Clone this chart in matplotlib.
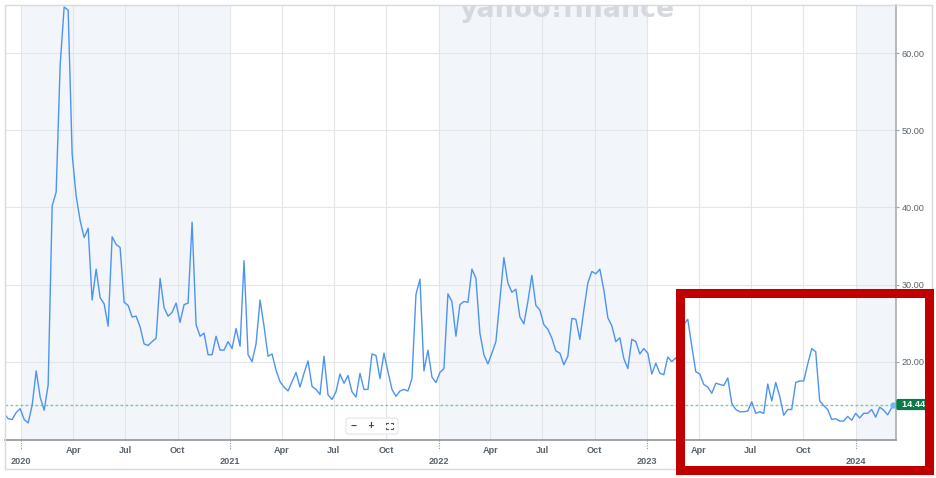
import pandas as pd
import matplotlib.pyplot as plt
import matplotlib.transforms as mtransforms
from matplotlib.patches import Rectangle, FancyBboxPatch
from matplotlib.lines import Line2D

# weekly closes, first week starts 2019-12-02
first_week = '2019-12-02'
last_date = '2024-03-07'

vix_2019 = [13.27, 12.6, 12.5, 13.4, 13.9]
vix_2020 = [12.5, 12.05, 14.35, 18.8, 15.4, 13.7, 17.0, 40.2, 42.0, 58.5, 66.0, 65.6,
            46.9, 41.5, 38.3, 36.1, 37.3, 28.0, 32.0, 28.3, 27.5, 24.6, 36.2, 35.2,
            34.8, 27.7, 27.3, 25.8, 25.9, 24.5, 22.3, 22.1, 22.6, 23.05, 30.8, 27.0,
            25.9, 26.4, 27.6, 25.1, 27.4, 27.6, 38.1, 24.8, 23.3, 23.7, 20.9, 20.9,
            23.3, 21.5, 21.5, 22.6]
vix_2021 = [21.7, 24.3, 22.0, 33.1, 20.9, 20.0, 22.3, 28.0, 24.6, 20.7, 21.0, 18.9,
            17.4, 16.7, 16.2, 17.4, 18.6, 16.7, 18.5, 20.1, 16.8, 16.4, 15.75, 20.7,
            15.7, 15.1, 16.1, 18.4, 17.2, 18.2, 16.1, 15.4, 18.5, 16.4, 16.4, 21.0,
            20.8, 17.8, 21.1, 18.7, 16.4, 15.5, 16.2, 16.4, 16.2, 17.8, 28.7, 30.7,
            18.8, 21.5, 18.0, 17.3]
vix_2022 = [18.6, 19.1, 28.8, 27.8, 23.3, 27.4, 27.8, 27.7, 32.0, 30.8, 23.7, 20.9,
            19.7, 21.1, 22.6, 28.0, 33.5, 30.2, 29.0, 29.4, 25.8, 24.9, 27.8, 31.2,
            27.3, 26.7, 24.8, 24.2, 23.05, 21.4, 21.1, 19.6, 20.7, 25.6, 25.5, 22.9,
            26.7, 30.2, 31.7, 31.4, 32.0, 29.3, 25.7, 24.65, 22.6, 23.1, 20.4, 19.1,
            22.9, 22.6, 21.0, 21.7]
vix_2023 = [21.1, 18.4, 19.8, 18.5, 18.3, 20.6, 20.0, 20.5, 19.0, 24.8, 25.5, 22.0,
            18.7, 18.4, 17.05, 16.7, 15.9, 17.2, 17.05, 16.9, 17.9, 14.6, 13.8, 13.5,
            13.5, 13.6, 14.8, 13.3, 13.5, 13.3, 17.1, 14.9, 17.3, 15.5, 13.05, 13.8,
            13.8, 17.3, 17.5, 17.5, 19.7, 21.7, 21.3, 14.9, 14.3, 13.8, 12.5, 12.6,
            12.3, 12.3, 12.9, 12.4]
vix_2024 = [13.3, 12.7, 13.3, 13.3, 13.8, 12.8, 14.1, 13.7, 13.1, 14.44]

y_ticks = [20, 30, 40, 50, 60]
shaded_years = [2020, 2022, 2024]

closes = vix_2019 + vix_2020 + vix_2021 + vix_2022 + vix_2023 + vix_2024
weeks = pd.date_range(first_week, periods=len(closes) - 1, freq='W-MON')
dates = weeks.append(pd.DatetimeIndex([last_date]))
last_close = closes[-1]

plt.rcParams['font.family'] = ['Liberation Sans', 'DejaVu Sans']

W, H = 936, 478
fig = plt.figure(figsize=(W / 100, H / 100), dpi=100)
ax = fig.add_axes([5 / W, 1 - 440 / H, 891 / W, 435 / H])


def px(x, y):
    # figure pixel (from top-left) -> figure fraction
    return x / W, 1 - y / H


x_left = pd.Timestamp('2019-12-03 10:00')
x_right = pd.Timestamp('2024-03-11 14:00')
ax.set_xlim(x_left, x_right)
ax.set_ylim(9.84, 66.26)

# alternate year shading
for yr in shaded_years:
    ax.axvspan(pd.Timestamp(f'{yr}-01-01'), min(pd.Timestamp(f'{yr + 1}-01-01'), x_right),
               color='#f2f5f9', lw=0, zorder=0)

# quarter ticks / grid
quarters = pd.date_range('2020-01-01', '2024-01-01', freq='QS')
labels = ['\n' + str(d.year) if d.month == 1 else d.strftime('%b') for d in quarters]
ax.set_xticks(quarters)
ax.set_xticklabels(labels, fontsize=6.6, fontweight='bold', color='#5b636a')
ax.tick_params(axis='x', length=0, pad=4.5)

ax.yaxis.tick_right()
ax.set_yticks(y_ticks)
ax.set_yticklabels([f'{v:.2f}' for v in y_ticks], fontsize=6.6, color='#5b636a')
ax.tick_params(axis='y', length=2.2, width=0.8, color='#9aa0a6', pad=2)

ax.grid(True, color='#e3e5e9', lw=0.8, zorder=1)
ax.set_axisbelow(True)

for side in ['top', 'left']:
    ax.spines[side].set_visible(False)
ax.spines['bottom'].set_color('#8f959b')
ax.spines['bottom'].set_linewidth(1.2)
ax.spines['right'].set_color('#a3a8ae')
ax.spines['right'].set_linewidth(1.1)

# dotted year ticks under the axis
blend = mtransforms.blended_transform_factory(ax.transData, ax.transAxes)
for d in quarters[quarters.month == 1]:
    ax.plot([d, d], [0, -0.022], transform=blend, color='#8f959b', lw=0.8,
            ls=(0, (1, 1.2)), clip_on=False)

# watermark (clipped by the top of the plot, as in the screenshot)
ax.text(0.5107, 0.9717, 'yahoo!finance', transform=ax.transAxes, family='DejaVu Sans',
        fontsize=19.4, fontweight='bold', color='#d5d9de', ha='left', va='baseline',
        clip_on=True, zorder=1)

ax.axhline(last_close, color='#7cc7a6', lw=1.0, ls=(0, (2, 1.6)), zorder=2)
ax.plot(dates, closes, color='#4d94ef', lw=1.0, zorder=3)
ax.plot(dates[-1], last_close, 'o', ms=3.5, color='#72b8f5', zorder=4, clip_on=False)

# zoom controls: box, minus / plus, and a four-corner "fit" icon
bx0, by0 = px(346, 434)
bx1, by1 = px(398, 418)
fig.add_artist(FancyBboxPatch((bx0, by0), bx1 - bx0, by1 - by0, transform=fig.transFigure,
                              boxstyle='round,pad=0,rounding_size=0.004',
                              fc='white', ec='#e3e5e9', lw=0.8, zorder=5))
fig.text(*px(363, 426), '−    +', ha='center', va='center', fontsize=7.5,
         fontweight='bold', color='#444444', zorder=6)
cx, cy, s, k = 389.5, 426, 3.2, 1.6
for sx in (-1, 1):
    for sy in (-1, 1):
        xs = [cx + sx * s, cx + sx * s, cx + sx * (s - k)]
        ys = [cy + sy * (s - k), cy + sy * s, cy + sy * s]
        pts = [px(a, b) for a, b in zip(xs, ys)]
        fig.add_artist(Line2D([p[0] for p in pts], [p[1] for p in pts],
                              transform=fig.transFigure, color='#555555', lw=0.8, zorder=6))

# outer frame
fig.add_artist(Rectangle(px(4.5, 469), 927.5 / W, 464.5 / H, transform=fig.transFigure,
                         fill=False, ec='#d6d9dd', lw=1.0))

# red highlight box
fig.add_artist(Rectangle(px(680.4, 470.3), 248.1 / W, 177.3 / H,
                         transform=fig.transFigure, fill=False, ec='#c00000', lw=6.5, zorder=10))

# last value label
ylab = mtransforms.blended_transform_factory(ax.transAxes, ax.transData)
ax.text(1.0202, last_close, '  14.44  ', transform=ylab, ha='center', va='center',
        fontsize=6.6, fontweight='bold', color='white', clip_on=False, zorder=12,
        bbox=dict(boxstyle='round,pad=0.12,rounding_size=0.2', fc='#0b7a47', ec='none'))

plt.savefig('out.png', dpi=100)
